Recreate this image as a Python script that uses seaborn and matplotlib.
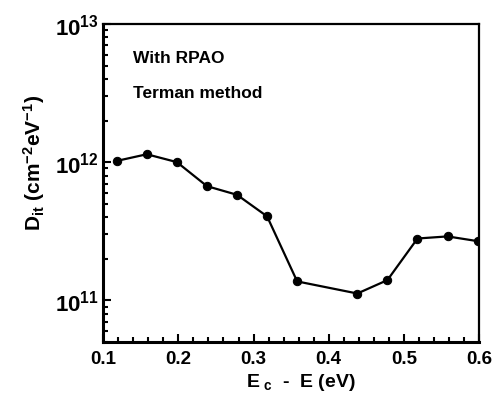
import numpy as np
import pandas as pd
import matplotlib
matplotlib.use("Agg")
import matplotlib.pyplot as plt
import seaborn as sns
from matplotlib.ticker import LogLocator, MultipleLocator, NullFormatter

# valores
energia = [0.118, 0.158, 0.198, 0.238, 0.278, 0.318, 0.358, 0.438, 0.478, 0.518, 0.558, 0.598]
dit = [1.02e12, 1.14e12, 1.0e12, 6.7e11, 5.8e11, 4.05e11, 1.37e11, 1.12e11, 1.40e11, 2.8e11, 2.9e11, 2.68e11]

sns.set_style("ticks")
plt.rcParams['font.family'] = ['Liberation Sans', 'DejaVu Sans']
plt.rcParams['font.weight'] = 'bold'
plt.rcParams['mathtext.fontset'] = 'custom'
plt.rcParams['mathtext.rm'] = 'Liberation Sans:bold'
plt.rcParams['mathtext.bf'] = 'Liberation Sans:bold'
plt.rcParams['mathtext.it'] = 'Liberation Sans:bold'
plt.rcParams['mathtext.default'] = 'bf'
# tudo em preto puro
for chave in ['text.color', 'axes.labelcolor', 'xtick.color', 'ytick.color', 'axes.edgecolor']:
    plt.rcParams[chave] = 'black'

df = pd.DataFrame({'E': energia, 'Dit': dit})

fig, ax = plt.subplots(figsize=(4.96, 4.02), dpi=100)
fig.subplots_adjust(left=0.208, right=0.966, top=0.938, bottom=0.147)

sns.lineplot(data=df, x='E', y='Dit', ax=ax, color='black', linewidth=1.6,
             marker='o', markersize=6, markeredgecolor='black', markerfacecolor='black')

ax.set_yscale('log')
ax.set_xlim(0.1, 0.6)
ax.set_ylim(5e10, 1e13)

ax.xaxis.set_major_locator(MultipleLocator(0.1))
ax.xaxis.set_minor_locator(MultipleLocator(0.02))
ax.yaxis.set_major_locator(LogLocator(base=10, numticks=10))
ax.yaxis.set_minor_locator(LogLocator(base=10, subs=np.arange(2, 10), numticks=20))
ax.yaxis.set_minor_formatter(NullFormatter())

ax.tick_params(which='both', direction='in', top=False, right=False, width=1.5)
ax.tick_params(which='major', length=6)
ax.tick_params(which='minor', length=3.5)
ax.tick_params(axis='x', which='major', labelsize=13.5, pad=6)
ax.tick_params(axis='y', which='major', labelsize=16, pad=3)

for lado in ['left', 'bottom']:
    ax.spines[lado].set_linewidth(2.2)
for lado in ['top', 'right']:
    ax.spines[lado].set_linewidth(1.6)

ax.set_xlabel(r'E$_{\ \mathbf{c}}$  -  E (eV)', fontsize=14, fontweight='bold')
ax.xaxis.set_label_coords(0.527, -0.09)
ax.set_ylabel(r'D$_{\mathbf{it}}$ (cm$^{\mathbf{-2}}$eV$^{\mathbf{-1}}$)', fontsize=15,
              fontweight='bold')
ax.yaxis.set_label_coords(-0.15, 0.565)

ax.text(0.08, 0.88, 'With RPAO', transform=ax.transAxes, fontsize=12.5, fontweight='bold')
ax.text(0.08, 0.77, 'Terman method', transform=ax.transAxes, fontsize=12.5, fontweight='bold')

plt.savefig("out.png", dpi=100)
plt.close()
